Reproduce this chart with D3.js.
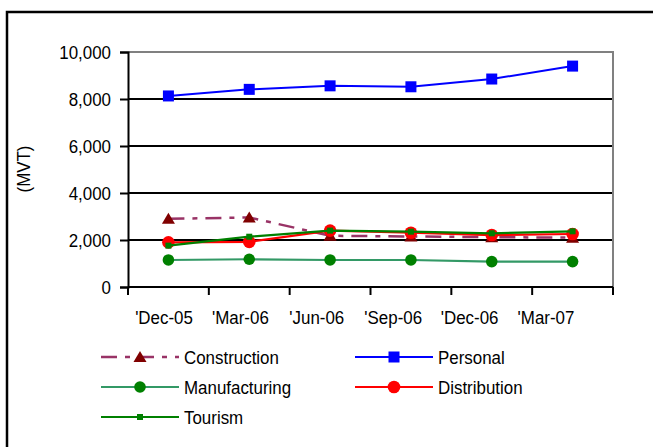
<!DOCTYPE html>
<html>
<head>
<meta charset="utf-8">
<script src="https://cdn.jsdelivr.net/npm/d3@7/dist/d3.min.js"></script>
<style>
  html, body { margin: 0; padding: 0; background: #fff; }
  svg { display: block; }
  text { font-family: "Liberation Sans", Arial, sans-serif; fill: #000; }
</style>
</head>
<body>
<svg id="chart" width="653" height="447"></svg>
<script>
// Quarterly lending by sector (MVT)
const periods = ["'Dec-05", "'Mar-06", "'Jun-06", "'Sep-06", "'Dec-06", "'Mar-07"];
const construction  = [2900, 2960, 2180, 2150, 2120, 2100];
const personal      = [8130, 8410, 8560, 8520, 8850, 9400];
const manufacturing = [1150, 1180, 1150, 1150, 1080, 1080];
const distribution  = [1900, 1920, 2400, 2310, 2210, 2255];
const tourism       = [1760, 2140, 2400, 2355, 2285, 2370];
const yTicks = [0, 2000, 4000, 6000, 8000, 10000];

const series = [
  { name: "Construction",  values: construction,  line: "#993366", fill: "#800000", marker: "triangle", dash: "16,8,5,8", width: 2.5 },
  { name: "Personal",      values: personal,      line: "#0000FF", fill: "#0000FF", marker: "square",   dash: null, width: 2 },
  { name: "Manufacturing", values: manufacturing, line: "#339966", fill: "#008000", marker: "circle",   r: 5.8, dash: null, width: 2.2 },
  { name: "Distribution",  values: distribution,  line: "#FF0000", fill: "#FF0000", marker: "circle",   r: 6.3, dash: null, width: 2.2 },
  { name: "Tourism",       values: tourism,       line: "#008000", fill: "#008000", marker: "smallsq",  dash: null, width: 2.2 }
];

const FONT = 18;
// slightly narrow, tall lettering
function stretch(sel) {
  sel.each(function () {
    const t = d3.select(this);
    const tx = +t.attr("x") || 0, ty = +t.attr("y") || 0;
    t.attr("x", 0).attr("y", 0)
      .attr("transform", `translate(${tx},${ty}) scale(0.94,1.05)`);
  });
}

const svg = d3.select("#chart");
const plot = { left: 128, right: 613, top: 52, bottom: 287 };

// outer frame
svg.append("path")
  .attr("d", `M7,460 L7,12 L660,12`)
  .attr("fill", "none").attr("stroke", "#000").attr("stroke-width", 2.5);

const x = d3.scaleBand().domain(periods).range([plot.left, plot.right]).padding(0);
const xLabel = d3.scalePoint().domain(periods).range([164, 546]);
const y = d3.scaleLinear().domain([0, 10000]).range([plot.bottom, plot.top]);
const cx = d => x(d) + x.bandwidth() / 2;

// horizontal gridlines
svg.append("g").selectAll("line")
  .data(yTicks.filter(t => t > 0 && t < 10000))
  .join("line")
  .attr("x1", plot.left).attr("x2", plot.right)
  .attr("y1", d => y(d)).attr("y2", d => y(d))
  .attr("stroke", "#000").attr("stroke-width", 2);

// plot area border (top and right)
svg.append("path")
  .attr("d", `M${plot.left},${y(10000)} L${plot.right},${y(10000)} L${plot.right},${plot.bottom}`)
  .attr("fill", "none").attr("stroke", "#808080").attr("stroke-width", 2);

// y axis
const yAxis = d3.axisLeft(y).tickValues(yTicks).tickSize(8).tickPadding(9)
  .tickFormat(d3.format(","));
const gy = svg.append("g").attr("transform", `translate(${plot.left},0)`).call(yAxis);
gy.select(".domain").attr("stroke", "#000").attr("stroke-width", 2);
gy.selectAll(".tick line").attr("stroke", "#000").attr("stroke-width", 2);
gy.selectAll(".tick text")
  .attr("font-size", FONT)
  .attr("font-family", "Liberation Sans, Arial, sans-serif")
  .attr("dy", null).attr("y", 6.5)
  .call(stretch);

// x axis: ticks at category boundaries
const boundaries = periods.map(p => x(p)).concat([plot.right]);
svg.append("line")
  .attr("x1", plot.left).attr("x2", plot.right)
  .attr("y1", plot.bottom).attr("y2", plot.bottom)
  .attr("stroke", "#000").attr("stroke-width", 2);
svg.append("g").selectAll("line").data(boundaries).join("line")
  .attr("x1", d => d).attr("x2", d => d)
  .attr("y1", plot.bottom).attr("y2", plot.bottom + 8)
  .attr("stroke", "#000").attr("stroke-width", 2);
svg.append("g").selectAll("text").data(periods).join("text")
  .attr("x", d => xLabel(d)).attr("y", 324)
  .attr("text-anchor", "middle").attr("font-size", FONT)
  .text(d => d)
  .call(stretch);

// y axis title
svg.append("text")
  .attr("transform", "translate(30,169) rotate(-90) scale(0.94,1.05)")
  .attr("text-anchor", "middle").attr("font-size", FONT)
  .text("(MVT)");

// marker drawing
function drawMarker(g, s, px, py) {
  if (s.marker === "triangle") {
    g.append("path")
      .attr("d", `M${px},${py - 6} L${px + 6.5},${py + 5} L${px - 6.5},${py + 5} Z`)
      .attr("fill", s.fill);
  } else if (s.marker === "square") {
    g.append("rect").attr("x", px - 5.5).attr("y", py - 5.5)
      .attr("width", 11).attr("height", 11).attr("fill", s.fill);
  } else if (s.marker === "smallsq") {
    g.append("rect").attr("x", px - 3).attr("y", py - 3)
      .attr("width", 6).attr("height", 6).attr("fill", s.fill);
  } else {
    g.append("circle").attr("cx", px).attr("cy", py).attr("r", s.r).attr("fill", s.fill);
  }
}

const line = d3.line().x(d => cx(d.p)).y(d => y(d.v));

series.forEach(s => {
  const pts = periods.map((p, i) => ({ p, v: s.values[i] }));
  const g = svg.append("g");
  g.append("path").datum(pts)
    .attr("d", line)
    .attr("fill", "none").attr("stroke", s.line).attr("stroke-width", s.width)
    .attr("stroke-dasharray", s.dash);
  pts.forEach(d => drawMarker(g, s, cx(d.p), y(d.v)));
});

// legend
const legendCols = [101, 355];
const legendRows = [357, 387, 417];
series.forEach((s, i) => {
  const col = i % 2, row = Math.floor(i / 2);
  const lx = legendCols[col], ly = legendRows[row];
  const g = svg.append("g");
  g.append("line")
    .attr("x1", lx).attr("x2", lx + 78).attr("y1", ly).attr("y2", ly)
    .attr("stroke", s.line).attr("stroke-width", s.width)
    .attr("stroke-dasharray", s.dash);
  drawMarker(g, s, lx + 39, ly);
  g.append("text").attr("x", lx + 83).attr("y", ly + 7)
    .attr("font-size", FONT).text(s.name)
    .call(stretch);
});
</script>
</body>
</html>
